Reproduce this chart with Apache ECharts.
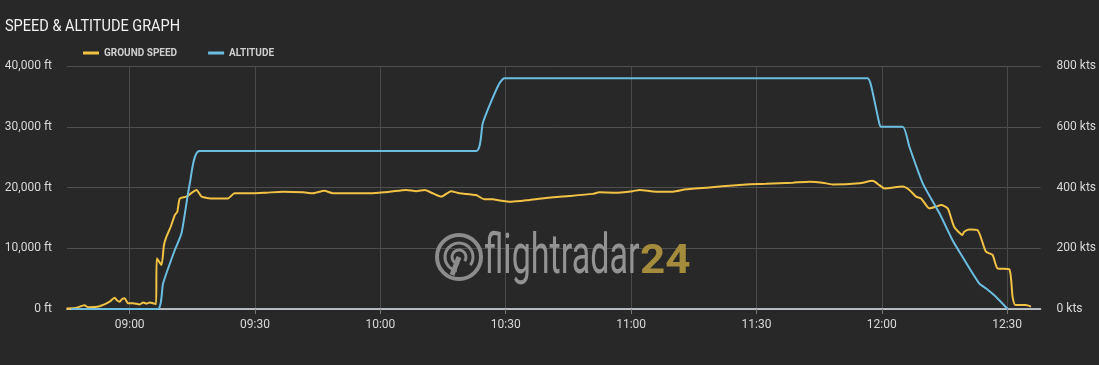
<!DOCTYPE html>
<html>
<head>
<meta charset="utf-8">
<script src="https://cdn.jsdelivr.net/npm/echarts@6/dist/echarts.min.js"></script>
<style>
html,body{margin:0;padding:0;background:#282828;}
#c{width:1099px;height:365px;}
</style>
</head>
<body>
<div id="c"></div>
<script>
// x values: minutes after midnight
const tickLabels = ['09:00','09:30','10:00','10:30','11:00','11:30','12:00','12:30'];
const yLeftTicks = [0, 10000, 20000, 30000, 40000];
const yRightTicks = [0, 200, 400, 600, 800];

const speedTimes = [524.9,527,529.2,530,532.8,535.2,536.4,537,537.6,538.2,538.8,539.6,540.8,542.4,543.2,544.0,544.8,545.6,546.3,
  546.5,547.6,548.2,548.8,549.8,550.8,551.4,552.0,553.6,556.0,557.2,559.9,563.5,565.1,569.5,572.7,576.7,581.5,583.8,586.6,588.6,
  597.4,602.2,606.2,608.6,610.6,612.5,614.6,616.9,618.9,622.9,624.9,626.9,628.5,631.3,635.7,641.3,645.2,650.8,652.4,656,660.4,
  662.0,666.0,670.0,673.2,681.2,687.5,692.3,698.7,702.7,705.8,708.2,714.6,717.8,719.4,720.6,725.0,726.6,728.2,729.4,731.4,733.0,
  734.2,735.8,737.3,739.3,739.7,740.9,742.9,744.9,746.5,747.7,750.5,751.3,752.0,754.5,755.7];
const speedKts = [2,3,12,6,9,24,37,28,24,33,35,19,19,15,21,18,21,19,16,
  167,145,210,238,270,309,320,364,370,392,370,364,364,381,381,383,386,384,381,389,381,
  381,386,392,388,392,381,370,388,381,375,361,361,357,353,359,368,372,379,384,383,388,
  392,386,386,394,403,410,412,416,419,416,410,414,422,408,397,403,392,370,364,331,337,
  342,331,271,244,254,262,260,189,178,134,131,40,13,13,8];

const altTimes = [526,546.7,548.0,550.8,552.4,554.4,556.7,622.9,624.5,626.5,628.5,629.7,716.6,717.4,719.4,719.8,725.0,726.6,
  729.8,733.8,736.9,739.3,743.3,744.9,747.3,750.1];
const altFt = [0,0,4230,9710,12460,20690,26000,26000,30570,34120,37150,38000,38000,36870,30570,30000,30000,26710,
  20690,15750,11360,8610,4230,3410,2020,0];

function toMin(s){const p=s.split(':');return (+p[0])*60+(+p[1]);}
const tickValues = tickLabels.map(toMin);
function fmtTime(v){const h=Math.floor(v/60),m=Math.round(v%60);return String(h).padStart(2,'0')+':'+String(m).padStart(2,'0');}

const speedData = speedTimes.map((t,i)=>[t,speedKts[i]]);
const altData = altTimes.map((t,i)=>[t,altFt[i]]);

const chart = echarts.init(document.getElementById('c'), null, {renderer:'canvas'});
const FONT = 'Roboto';
chart.setOption({
  backgroundColor:'#282828',
  animation:false,
  legend:{
    left:78, top:43, itemWidth:16, itemHeight:3, itemGap:31, icon:'rect',
    textStyle:{color:'#cfcfcf', fontSize:10, fontWeight:'bold', fontFamily:FONT},
    data:['GROUND SPEED','ALTITUDE']
  },
  grid:{left:67, right:57, top:66, bottom:56},
  xAxis:{
    type:'value', min:525, max:758,
    axisLine:{show:true, lineStyle:{color:'#dfe6ee', width:1.5}},
    axisTick:{show:true, customValues:tickValues, length:5, lineStyle:{color:'#777'}},
    axisLabel:{customValues:tickValues, formatter:fmtTime, color:'#d8d8d8', fontSize:12, fontFamily:FONT, margin:10},
    splitLine:{show:true, lineStyle:{color:'#4a4a4a', width:1}}
  },
  yAxis:[{
    type:'value', min:0, max:40000, interval:10000,
    axisLine:{show:false}, axisTick:{show:false},
    axisLabel:{formatter:v=>v.toLocaleString('en-US')+' ft', color:'#d8d8d8', fontSize:12, fontFamily:FONT, margin:15},
    splitLine:{show:true, lineStyle:{color:'#4f4f4f', width:1}}
  },{
    type:'value', min:0, max:800, interval:200,
    axisLine:{show:false}, axisTick:{show:false},
    axisLabel:{formatter:v=>v+' kts', color:'#d8d8d8', fontSize:12, fontFamily:FONT, margin:16},
    splitLine:{show:false}
  }],
  graphic:[
    {type:'text', z:5, x:5, y:27, scaleX:0.88,
      style:{text:'SPEED & ALTITUDE GRAPH', font:'16.5px Roboto', fill:'#f2f2f2', textVerticalAlign:'middle'}},
    {type:'circle', z:1, shape:{cx:459, cy:257, r:22}, style:{fill:'none', stroke:'#8c8c8c', lineWidth:4}},
    {type:'arc', z:1, shape:{cx:459, cy:257, r:14, startAngle:Math.PI*0.55, endAngle:Math.PI*2.2}, style:{fill:'none', stroke:'#8c8c8c', lineWidth:3}},
    {type:'arc', z:1, shape:{cx:459, cy:257, r:7, startAngle:Math.PI*0.55, endAngle:Math.PI*2.2}, style:{fill:'none', stroke:'#8c8c8c', lineWidth:3}},
    {type:'line', z:1, shape:{x1:459, y1:257, x2:452, y2:275}, style:{stroke:'#8c8c8c', lineWidth:5}},
    {type:'text', z:1, x:484, y:287, scaleX:0.62,
      style:{text:'flightradar', font:'55px Roboto', fill:'#939393', textVerticalAlign:'bottom'}},
    {type:'text', z:1, x:640, y:283, scaleX:1.1,
      style:{text:'24', font:'bold 40px Roboto', fill:'#a48c3c', textVerticalAlign:'bottom'}}
  ],
  series:[{
    name:'GROUND SPEED', type:'line', yAxisIndex:1, data:speedData, showSymbol:false, symbol:'none',
    smooth:0.2, lineStyle:{color:'#f2c245', width:2}, itemStyle:{color:'#f2c245'}, z:3
  },{
    name:'ALTITUDE', type:'line', yAxisIndex:0, data:altData, showSymbol:false, symbol:'none',
    smooth:0.2, lineStyle:{color:'#6cbde2', width:2}, itemStyle:{color:'#6cbde2'}, z:4
  }]
});
</script>
</body>
</html>
